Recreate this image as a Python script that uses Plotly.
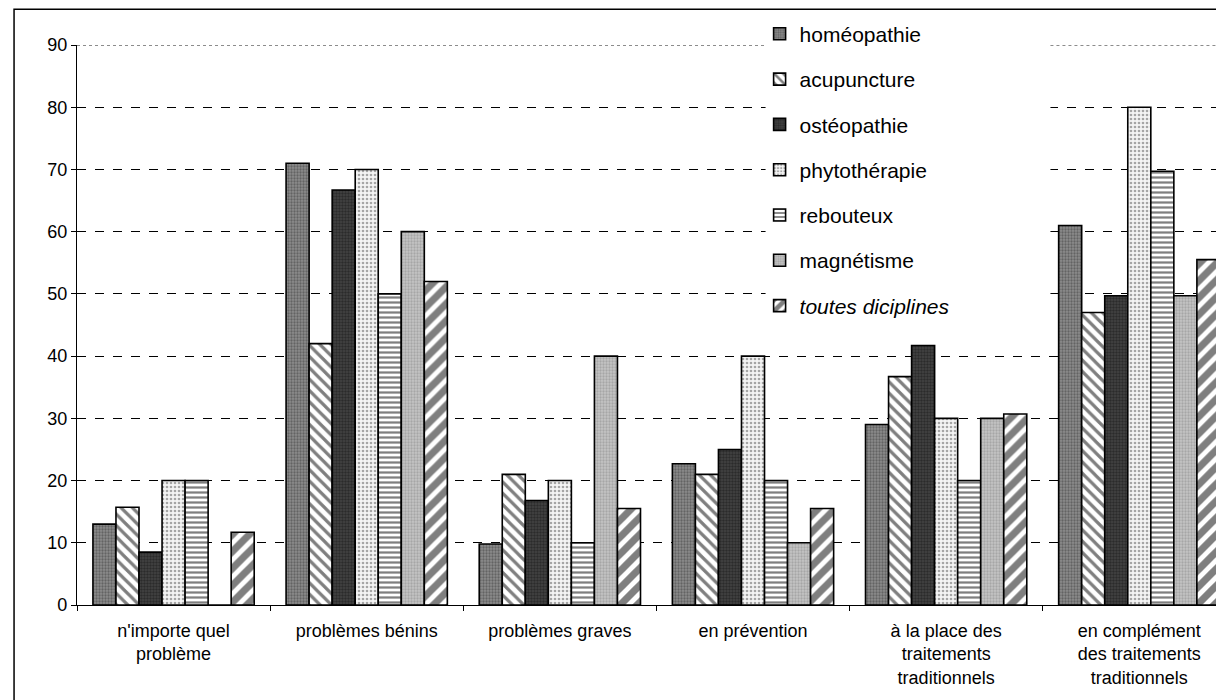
import plotly.graph_objects as go

categories = [
    "n'importe quel<br>problème",
    "problèmes bénins",
    "problèmes graves",
    "en prévention",
    "à la place des<br>traitements<br>traditionnels",
    "en complément<br>des traitements<br>traditionnels",
]

series_names = ["homéopathie", "acupuncture", "ostéopathie", "phytothérapie",
                "rebouteux", "magnétisme", "<i>toutes diciplines</i>"]

homeopathie = [13, 71, 9.8, 22.7, 29, 61]
acupuncture = [15.7, 42, 21, 21, 36.7, 47]
osteopathie = [8.5, 66.7, 16.8, 25, 41.7, 49.7]
phytotherapie = [20, 70, 20, 40, 30, 80]
rebouteux = [20, 50, 10, 20, 20, 69.7]
magnetisme = [0, 60, 40, 10, 30, 49.7]
toutes = [11.7, 52, 15.5, 15.5, 30.7, 55.5]

series_values = [homeopathie, acupuncture, osteopathie, phytotherapie,
                 rebouteux, magnetisme, toutes]

y_ticks = [0, 10, 20, 30, 40, 50, 60, 70, 80, 90]
y_max = 90

patterns = [
    dict(shape=".", bgcolor="#8c8c8c", fgcolor="#3a3a3a", size=3, solidity=0.45),
    dict(shape="\\", bgcolor="white", fgcolor="black", size=8, solidity=0.4),
    dict(shape=".", bgcolor="#444444", fgcolor="#111111", size=3, solidity=0.5),
    dict(shape=".", bgcolor="#f4f4f4", fgcolor="#555555", size=4, solidity=0.35),
    dict(shape="-", bgcolor="white", fgcolor="black", size=5, solidity=0.45),
    dict(shape=".", bgcolor="#c4c4c4", fgcolor="#888888", size=3, solidity=0.45),
    dict(shape="/", bgcolor="white", fgcolor="black", size=12, solidity=0.6),
]

fig = go.Figure()
for i, (name, vals) in enumerate(zip(series_names, series_values)):
    fig.add_trace(go.Bar(
        x=categories, y=vals, name=name,
        legendgroup=f"g{i}",
        marker=dict(color=patterns[i]["bgcolor"], pattern=patterns[i],
                    line=dict(color="black", width=1.6)),
    ))

fig.update_layout(
    width=1224, height=700,
    margin=dict(l=69, r=0, t=37, b=103),
    paper_bgcolor="white", plot_bgcolor="white",
    barmode="group", bargap=0.165, bargroupgap=0,
    font=dict(family="Liberation Sans, Arial, sans-serif", color="black", size=18),
    legend=dict(
        x=0.591, y=1.056, xanchor="left", yanchor="top",
        bgcolor="rgba(255,255,255,0)", borderwidth=0,
        font=dict(size=21, family="Liberation Sans, Arial, sans-serif"),
        tracegroupgap=15, traceorder="grouped",
        itemwidth=30,
    ),
    showlegend=True,
)

fig.update_xaxes(
    type="category", range=[-0.5, 5.48],
    showline=True, linecolor="black", linewidth=1.2,
    ticks="outside", tickson="boundaries", ticklen=5, tickcolor="black",
    showgrid=False, tickfont=dict(size=18), ticklabelstandoff=9,
)
fig.update_yaxes(
    range=[0, y_max], tickvals=y_ticks,
    showline=True, linecolor="black", linewidth=1.2,
    ticks="outside", ticklen=5, tickcolor="black",
    showgrid=True, gridcolor="black", gridwidth=0.8, griddash="dash",
    zeroline=False, tickfont=dict(size=18),
)

# white legend area covering gridlines (drawn under the bars)
fig.add_shape(type="rect", xref="x", yref="y",
              x0=3.065, x1=4.54, y0=44.5, y1=91,
              line=dict(width=0), fillcolor="white", layer="between")

# top gridline at 90, interrupted by the legend
for xa, xb in [(-0.5, 3.065), (4.54, 5.48)]:
    fig.add_shape(type="line", xref="x", yref="y",
                  x0=xa, x1=xb, y0=y_max, y1=y_max,
                  line=dict(color="black", width=0.9, dash="dot"),
                  layer="between")

# outer chart frame
fig.add_shape(type="rect", xref="paper", yref="paper",
              x0=-0.0545, x1=1.02, y0=-0.2, y1=1.064,
              line=dict(color="black", width=1.5), fillcolor="rgba(0,0,0,0)",
              layer="below")

fig.write_html("out.html")
